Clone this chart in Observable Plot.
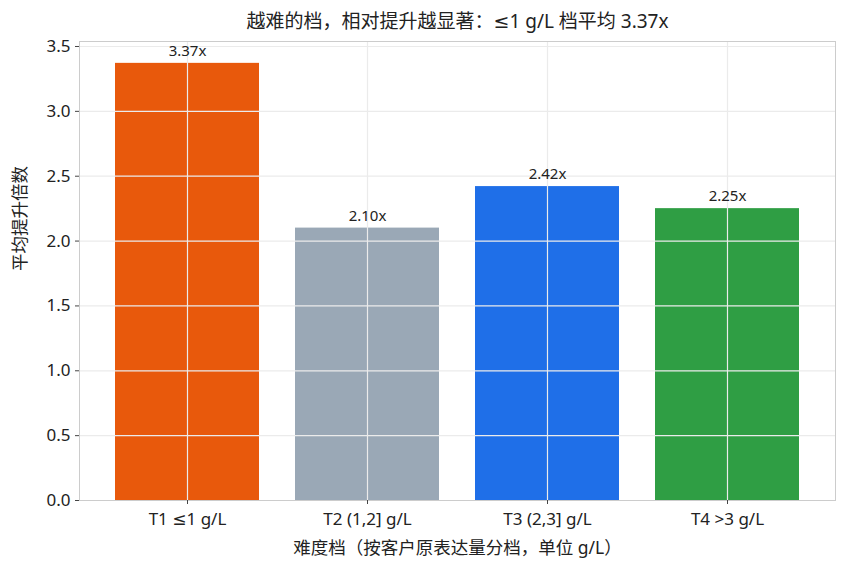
<!DOCTYPE html>
<html>
<head>
<meta charset="utf-8">
<script src="https://cdn.jsdelivr.net/npm/d3@7"></script>
<script src="https://cdn.jsdelivr.net/npm/@observablehq/plot@0.6"></script>
<style>
  html, body { margin: 0; padding: 0; background: #fff; }
  #chart svg { display: block; }
</style>
</head>
<body>
<div id="chart"></div>
<script>
const tiers = ["T1 ≤1 g/L", "T2 (1,2] g/L", "T3 (2,3] g/L", "T4 >3 g/L"];
const values = [3.37, 2.10, 2.42, 2.25];
const colors = ["#E8590C", "#9AA8B6", "#1F6FE8", "#2F9E44"];
const yTicks = [0, 0.5, 1.0, 1.5, 2.0, 2.5, 3.0, 3.5];
const titleText = "越难的档，相对提升越显著：≤1 g/L 档平均 3.37x";
const xLabel = "难度档（按客户原表达量分档，单位 g/L）";
const yLabel = "平均提升倍数";

const data = tiers.map((t, i) => ({tier: t, value: values[i], color: colors[i]}));
const font = "'Noto Sans', 'DejaVu Sans', 'Noto Sans CJK SC', sans-serif";

const chart = Plot.plot({
  width: 847,
  height: 572,
  marginLeft: 79,
  marginRight: 12,
  marginTop: 41,
  marginBottom: 72,
  style: {fontFamily: font, fontSize: "16px", color: "#222", background: "#fff"},
  x: {type: "band", domain: tiers, paddingInner: 0.2, paddingOuter: 0.2, label: null},
  y: {domain: [0, 3.37 * 1.05], label: null},
  marks: [
    Plot.barY(data, {x: "tier", y: "value", fill: "color", inset: 0}),
    Plot.gridY(yTicks, {stroke: "#ebebeb", strokeOpacity: 1, strokeWidth: 1.2}),
    Plot.gridX(tiers, {stroke: "#ebebeb", strokeOpacity: 1, strokeWidth: 1.2}),
    Plot.frame({stroke: "#cccccc", strokeWidth: 1}),
    Plot.axisY(yTicks, {tickFormat: d3.format(".1f"), tickSize: 4, tickPadding: 5, stroke: "#444", fontSize: 17, label: null}),
    Plot.axisX(tiers, {tickSize: 4, tickPadding: 8, stroke: "#444", fontSize: 17, label: null}),
    Plot.text(data, {x: "tier", y: "value", text: d => d.value.toFixed(2) + "x", dy: -12, fontSize: 15, fill: "#222"}),
    Plot.text([titleText], {frameAnchor: "top", lineAnchor: "middle", dy: -20, fontSize: 19, fill: "#222"}),
    Plot.text([xLabel], {frameAnchor: "bottom", lineAnchor: "middle", dy: 48, fontSize: 17.5, fill: "#222"}),
    Plot.text([yLabel], {frameAnchor: "left", lineAnchor: "middle", dx: -59, rotate: -90, fontSize: 17.5, fill: "#222"})
  ]
});
document.getElementById("chart").appendChild(chart);
</script>
</body>
</html>
